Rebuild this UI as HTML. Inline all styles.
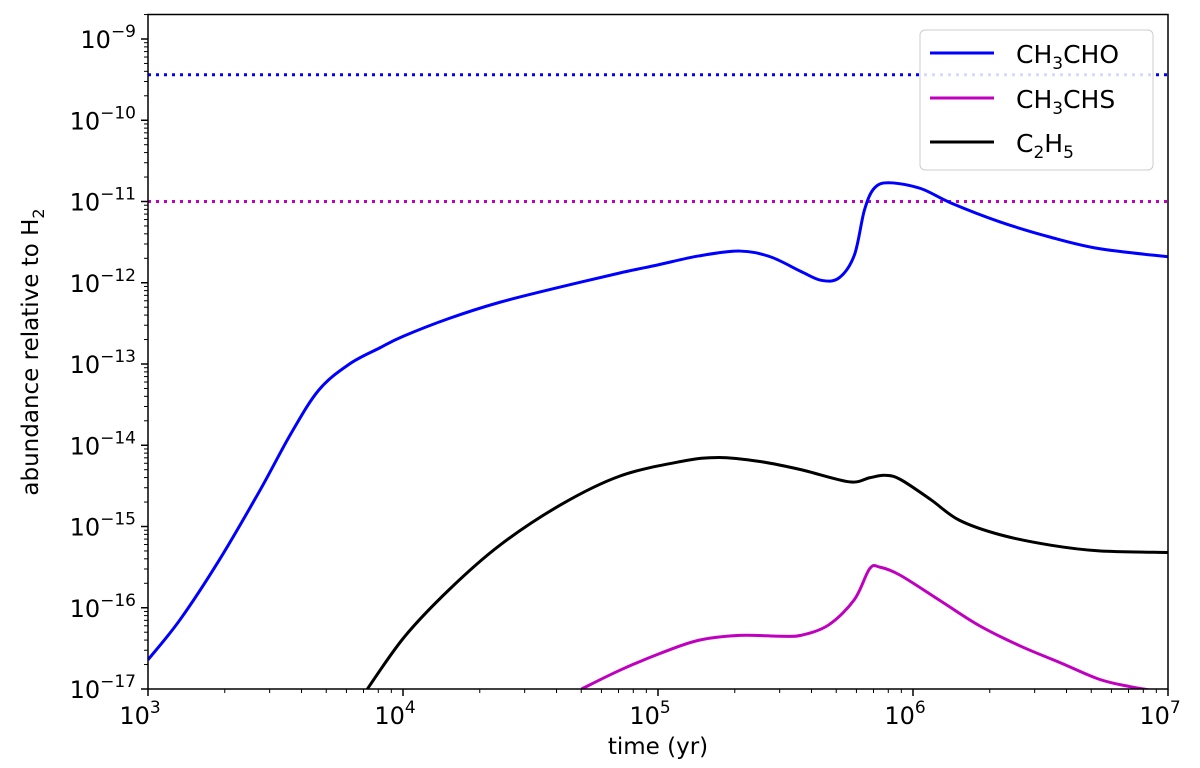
<!DOCTYPE html>
<html><head><meta charset="utf-8"><style>
html,body{margin:0;padding:0;background:#fff;}
svg{display:block;font-family:"DejaVu Sans","Liberation Sans",sans-serif;}
</style></head><body>
<svg id="chart" width="1200" height="768">
<defs><clipPath id="clip"><rect x="148" y="14.5" width="1020" height="674.5"/></clipPath></defs>
<g id="plot" clip-path="url(#clip)"></g>
<g id="axes"></g>
<rect x="148" y="14.5" width="1020" height="674.5" fill="none" stroke="#000" stroke-width="1.5"/>
<text x="658" y="754" font-size="23" text-anchor="middle">time (yr)</text>
<text transform="translate(38,352) rotate(-90)" font-size="23" text-anchor="middle">abundance relative to H<tspan font-size="16" dy="6">2</tspan></text>
<g>
<rect x="920" y="30" width="233" height="140" rx="5" fill="#fff" fill-opacity="0.85" stroke="#ccc" stroke-width="1"/>
<line x1="930" y1="53" x2="994" y2="53" stroke="#0000ff" stroke-width="3"/>
<text x="1016" y="63" font-size="25">CH<tspan font-size="17" dy="6">3</tspan><tspan dy="-6">CHO</tspan></text>
<line x1="930" y1="98" x2="994" y2="98" stroke="#bf00bf" stroke-width="3"/>
<text x="1016" y="108" font-size="25">CH<tspan font-size="17" dy="6">3</tspan><tspan dy="-6">CHS</tspan></text>
<line x1="930" y1="142" x2="994" y2="142" stroke="#000" stroke-width="3"/>
<text x="1016" y="152" font-size="25">C<tspan font-size="17" dy="6">2</tspan><tspan dy="-6">H</tspan><tspan font-size="17" dy="6">5</tspan></text>
</g>
</svg>
<script>
const xTicks=[3,4,5,6,7];
const yTicks=[-17,-16,-15,-14,-13,-12,-11,-10,-9];
const refLevels=[-9.44,-11.0];
const blueT=[3.00,3.125,3.28,3.44,3.56,3.67,3.79,3.91,4.00,4.18,4.38,4.62,4.85,5.00,5.16,5.32,5.44,5.56,5.64,5.71,5.77,5.81,5.85,5.91,6.03,6.15,6.34,6.54,6.73,7.00];
const blueA=[-16.64,-16.15,-15.41,-14.55,-13.86,-13.32,-13.00,-12.80,-12.66,-12.44,-12.24,-12.05,-11.88,-11.78,-11.67,-11.61,-11.68,-11.86,-11.97,-11.94,-11.66,-11.10,-10.83,-10.77,-10.84,-11.02,-11.25,-11.44,-11.58,-11.68];
const blackT=[3.83,4.00,4.18,4.38,4.62,4.85,5.09,5.24,5.40,5.56,5.75,5.83,5.89,5.95,6.07,6.18,6.34,6.54,6.73,7.00];
const blackA=[-17.14,-16.38,-15.78,-15.23,-14.73,-14.38,-14.20,-14.15,-14.20,-14.30,-14.45,-14.40,-14.37,-14.42,-14.67,-14.92,-15.10,-15.23,-15.30,-15.32];
const magT=[4.70,4.85,5.01,5.16,5.32,5.48,5.56,5.67,5.77,5.83,5.87,5.95,6.11,6.26,6.42,6.58,6.73,6.85,7.00];
const magA=[-17.0,-16.77,-16.56,-16.40,-16.34,-16.35,-16.34,-16.21,-15.90,-15.52,-15.50,-15.60,-15.92,-16.22,-16.47,-16.68,-16.88,-16.97,-17.05];

const NS='http://www.w3.org/2000/svg';
const X0=148,X1=1168,Y17=689,YDEC=81.25;
function xs(l){return X0+(l-3)*(X1-X0)/4;}
function ys(l){return Y17-(l+17)*YDEC;}
const plot=document.getElementById('plot'),axes=document.getElementById('axes');
function mk(tag,attrs,parent){const e=document.createElementNS(NS,tag);for(const k in attrs)e.setAttribute(k,attrs[k]);parent.appendChild(e);return e;}

refLevels.forEach((v,i)=>{
  const l=mk('line',{x1:X0,x2:X1,y1:ys(v),y2:ys(v),stroke:i==0?'#0000ff':'#bf00bf','stroke-width':3,'stroke-dasharray':'3 5'},plot);
  
  
});

function curve(T,A,color,name){
  const p=T.map((t,i)=>[xs(t),ys(A[i])]);
  let d='M'+p[0][0]+','+p[0][1];
  for(let i=0;i<p.length-1;i++){
    const p0=p[i-1]||p[i],p1=p[i],p2=p[i+1],p3=p[i+2]||p[i+1];
    const c1=[p1[0]+(p2[0]-p0[0])/6,p1[1]+(p2[1]-p0[1])/6];
    const c2=[p2[0]-(p3[0]-p1[0])/6,p2[1]-(p3[1]-p1[1])/6];
    d+=' C'+c1[0]+','+c1[1]+' '+c2[0]+','+c2[1]+' '+p2[0]+','+p2[1];
  }
  const e=mk('path',{d:d,fill:'none',stroke:color,'stroke-width':3,'stroke-linejoin':'round'},plot);
  
  
}
curve(blueT,blueA,'#0000ff','ch3cho-line');
curve(magT,magA,'#bf00bf','ch3chs-line');
curve(blackT,blackA,'#000000','c2h5-line');

xTicks.forEach(v=>{
  const x=xs(v);
  mk('line',{x1:x,x2:x,y1:689,y2:696,stroke:'#000','stroke-width':1.5},axes);
  const t=mk('text',{x:x-8,y:724,'font-size':24,'text-anchor':'middle'},axes);
  
  
  t.innerHTML='10<tspan font-size="17" dy="-11">'+v+'</tspan>';
  if(v<7)for(let m=2;m<10;m++){const xm=xs(v+Math.log10(m));mk('line',{x1:xm,x2:xm,y1:689,y2:693,stroke:'#000','stroke-width':1},axes);}
});
yTicks.forEach(v=>{
  const y=ys(v);
  mk('line',{x1:141,x2:148,y1:y,y2:y,stroke:'#000','stroke-width':1.5},axes);
  const t=mk('text',{x:136,y:y+9,'font-size':24,'text-anchor':'end'},axes);
  
  
  t.innerHTML='10<tspan font-size="17" dy="-11">\u2212'+Math.abs(v)+'</tspan>';
  for(let m=2;m<10;m++){const ym=ys(v+Math.log10(m));if(ym>14.5)mk('line',{x1:144,x2:148,y1:ym,y2:ym,stroke:'#000','stroke-width':1},axes);}
});
</script>
</body></html>
